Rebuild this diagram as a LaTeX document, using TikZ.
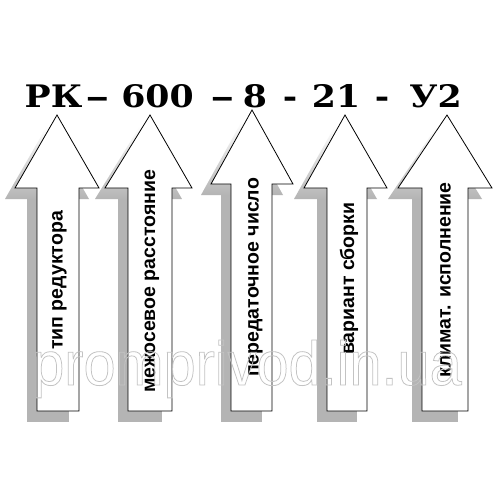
\documentclass[tikz,border=0pt]{standalone}
\usepackage{fontspec}
\usepackage{graphicx}
\setmainfont{DejaVu Serif}
\newfontfamily\lbl{Liberation Sans}
\definecolor{shadowgray}{RGB}{180,180,180}
\definecolor{wmgray}{RGB}{195,195,195}
\newcommand\ArShadow[8]{%
  \shade[top color=white,bottom color=shadowgray]
    ({#1-10},{#2+11}) -- ({#4-10},{#5+11}) -- ({#3-10},{#5+11}) -- cycle;
  \fill[shadowgray] ({#6-10},{#5+11}) rectangle ({#7-10},{#8+11});}
\newcommand\ArBody[8]{%
  \draw[arr] (#1,#2) -- (#4,#5) -- (#7,#5) -- (#7,#8) -- (#6,#8) -- (#6,#5) -- (#3,#5) -- cycle;}
\newcommand\tw[1]{\scalebox{1.12}[1]{#1}}
\newcommand\twd[1]{\scalebox{1.55}[1]{#1}}
\begin{document}
\begin{tikzpicture}[x=1pt,y=-1pt,
  title/.style={anchor=base,inner sep=0pt,font=\bfseries\fontsize{31}{31}\selectfont},
  lab/.style={anchor=base west,rotate=90,inner sep=0pt,font=\lbl\bfseries\fontsize{19.5}{19.5}\selectfont},
  arr/.style={draw=black,line width=0.8pt,fill=white,line join=miter},
  wmark/.style={anchor=base,inner sep=0pt,text=wmgray,font=\lbl\fontsize{62}{62}\selectfont}]
\useasboundingbox (0,0) rectangle (500,500);
\fill[white] (0,0) rectangle (500,500);
% shadows
\ArShadow{57}{115}{15}{99}{188}{37}{79}{411}
\ArShadow{150}{115}{105}{192}{188}{128}{172}{411}
\ArShadow{252}{110}{211}{293}{184}{231}{272}{411}
\ArShadow{345}{115}{304}{387}{188}{327}{367}{411}
\ArShadow{447}{115}{398}{492}{188}{422}{468}{411}
% arrows
\ArBody{57}{115}{15}{99}{188}{37}{79}{411}
\ArBody{150}{115}{105}{192}{188}{128}{172}{411}
\ArBody{252}{110}{211}{293}{184}{231}{272}{411}
\ArBody{345}{115}{304}{387}{188}{327}{367}{411}
\ArBody{447}{115}{398}{492}{188}{422}{468}{411}
% labels
\node[lab] (l1) at (62.5,350) {тип редуктора};
\node[lab] (l2) at (155,393) {межосевое расстояние};
\node[lab] (l3) at (258.5,377) {передаточное число};
\node[lab] (l4) at (354,355) {вариант сборки};
\node[lab] (l5) at (450.5,378) {климат. исполнение};
% title
\node[title] (t1) at (53.5,107) {\tw{РК}};
\node[title] (t2) at (97.5,107) {\twd{–}};
\node[title] (t3) at (157.5,107) {\tw{600}};
\node[title] (t4) at (222.5,107) {\twd{–}};
\node[title] (t5) at (255,107) {\tw{8}};
\node[title] (t6) at (290,107) {\tw{-}};
\node[title] (t7) at (336,107) {\tw{21}};
\node[title] (t8) at (382,107) {\tw{-}};
\node[title] (t9) at (435.5,107) {\tw{У2}};
% watermark
\node[wmark] (wm) at (247,385) {\special{pdf:literal direct 1 Tr 0.8 w}\scalebox{0.93}[1]{promprivod.in.ua}\special{pdf:literal direct 0 Tr}};
\end{tikzpicture}
\end{document}
